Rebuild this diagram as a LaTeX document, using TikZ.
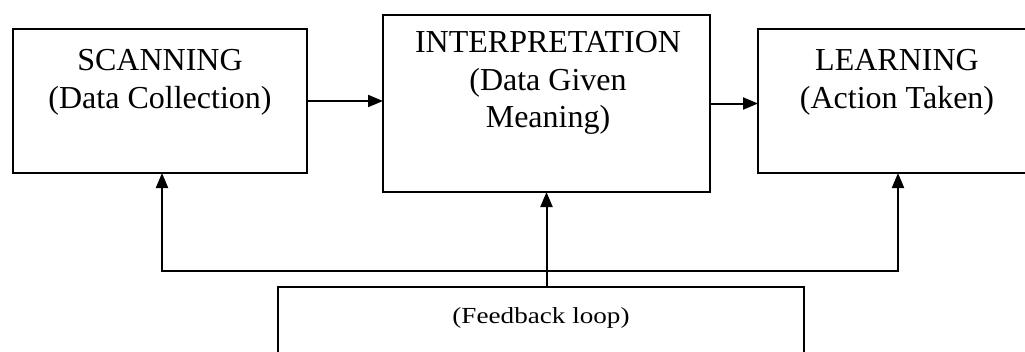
\documentclass[tikz,border=0pt]{standalone}
\usepackage{fontspec}
\setmainfont{Liberation Serif}
\newfontfamily\loopfont[FakeStretch=1.18]{Liberation Serif}
\usetikzlibrary{arrows.meta,calc}
\begin{document}
\begin{tikzpicture}[x=1pt,y=-1pt,
  box/.style={draw,line width=2pt,inner sep=0pt,outer sep=0pt},
  lbl/.style={font=\fontsize{32}{37.5}\selectfont,align=center,inner sep=0pt},
  small/.style={font=\loopfont\fontsize{23}{27}\selectfont,inner sep=0pt},
  link/.style={line width=2pt,-{Triangle[length=15pt,width=12pt]}},
  twoway/.style={line width=2pt,{Triangle[length=15pt,width=12pt]}-{Triangle[length=15pt,width=12pt]}}]
\useasboundingbox (0,0) rectangle (1025,351);
\clip (0,0) rectangle (1025,351);

% the three stages
\node[box,minimum width=294pt,minimum height=144pt] (scan)   at (160,101)   {};
\node[box,minimum width=327pt,minimum height=177pt] (interp) at (546.5,103.5) {};
\node[box,minimum width=287pt,minimum height=144pt] (learn)  at (901.5,101) {};
% feedback box at the bottom
\node[box,minimum width=526pt,minimum height=93pt]  (loop)   at (541,333.5) {};

% stage texts (anchored at the baseline of the last line)
\node[lbl,anchor=base] (scantxt)   at (160,108)  {SCANNING\\(Data Collection)};
\node[lbl,anchor=base] (interptxt) at (548,127.5) {INTERPRETATION\\(Data Given\\Meaning)};
\node[lbl,anchor=base] (learntxt)  at (897,108)  {LEARNING\\(Action Taken)};
\node[small,anchor=base] (looptxt) at (541,323) {(Feedback loop)};

% forward flow
\draw[link] (scan.east) -- (scan.east -| interp.west);
\draw[link] (interp.east) -- (interp.east -| learn.west);

% feedback lines
\coordinate (sj) at (162,271);
\coordinate (lj) at (898,271);
\draw[link] (loop.north -| interp.south) -- (interp.south);
\draw[twoway] (sj |- scan.south) -- (sj) -- (lj) -- (lj |- learn.south);
\end{tikzpicture}
\end{document}
